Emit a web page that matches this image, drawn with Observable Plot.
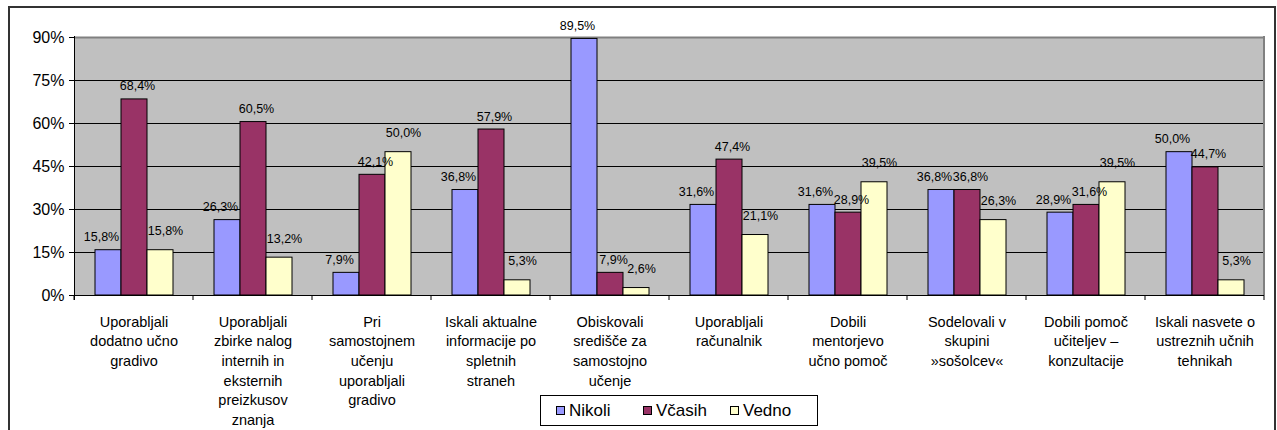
<!DOCTYPE html>
<html>
<head>
<meta charset="utf-8">
<script src="https://cdn.jsdelivr.net/npm/d3@7"></script>
<script src="https://cdn.jsdelivr.net/npm/@observablehq/plot@0.6"></script>
<style>
  html, body { margin: 0; padding: 0; background: #fff; }
  #wrap { position: relative; width: 1277px; height: 430px; overflow: hidden; font-family: Arial, "Liberation Sans", sans-serif; }
  #border { position: absolute; left: 8px; top: 6px; width: 1268px; height: 450px; box-sizing: border-box; border: 2px solid #333; }
  #chart { position: absolute; left: 0; top: 0; }
  #legend { position: absolute; left: 540px; top: 395px; width: 278px; height: 31px; box-sizing: border-box;
            border: 1px solid #000; background: #fff; display: flex; align-items: center; padding-left: 15px;
            font-size: 17px; color: #000; }
  .item { display: inline-flex; align-items: center; width: 92px; }
  .sw { width: 7px; height: 7px; border: 1px solid #000; margin-right: 4px; }
</style>
</head>
<body>
<div id="wrap">
  <div id="border"></div>
  <div id="chart"></div>
  <div id="legend"></div>
</div>
<script>
const categories = [
  "Uporabljali\ndodatno učno\ngradivo",
  "Uporabljali\nzbirke nalog\ninternih in\neksternih\npreizkusov\nznanja",
  "Pri\nsamostojnem\nučenju\nuporabljali\ngradivo",
  "Iskali aktualne\ninformacije po\nspletnih\nstraneh",
  "Obiskovali\nsredišče za\nsamostojno\nučenje",
  "Uporabljali\nračunalnik",
  "Dobili\nmentorjevo\nučno pomoč",
  "Sodelovali v\nskupini\n»sošolcev«",
  "Dobili pomoč\nučiteljev –\nkonzultacije",
  "Iskali nasvete o\nustreznih učnih\ntehnikah"
];
const series = ["Nikoli", "Včasih", "Vedno"];
const nikoli = [15.8, 26.3, 7.9, 36.8, 89.5, 31.6, 31.6, 36.8, 28.9, 50.0];
const vcasih = [68.4, 60.5, 42.1, 57.9, 7.9, 47.4, 28.9, 36.8, 31.6, 44.7];
const vedno  = [15.8, 13.2, 50.0, 5.3, 2.6, 21.1, 39.5, 26.3, 39.5, 5.3];
const yTicks = [0, 15, 30, 45, 60, 75, 90];
const colors = ["#9999FF", "#993366", "#FFFFCC"];

const values = [nikoli, vcasih, vedno];
const data = categories.flatMap((c, i) => series.map((s, j) => ({category: c, series: s, value: values[j][i]})));
const fmt = v => v.toFixed(1).replace(".", ",") + "%";

const W = 1277, H = 430, mL = 74, mR = 13, mT = 37, mB = 135;
const labelDx = {"Nikoli": -7, "Včasih": 3, "Vedno": 5};
const labelDy = {"Nikoli": -13, "Včasih": -13, "Vedno": -19};

const chart = Plot.plot({
  width: W, height: H,
  marginLeft: mL, marginRight: mR, marginTop: mT, marginBottom: mB,
  style: {background: "transparent", fontFamily: "Arial, 'Liberation Sans', sans-serif", color: "#000", overflow: "visible"},
  fx: {domain: categories, padding: 0, label: null},
  x: {domain: series, paddingInner: 0, paddingOuter: 0.74, axis: null},
  y: {domain: [0, 90], label: null},
  color: {domain: series, range: colors},
  marks: [
    Plot.ruleY(yTicks.filter(t => t > 0 && t < 90), {stroke: "#000", strokeWidth: 1}),
    Plot.ruleY([90], {stroke: "#808080", strokeWidth: 2}),
    Plot.barY(data, {fx: "category", x: "series", y: "value", fill: "series", stroke: "#000", strokeWidth: 1}),
    ...series.map(s => Plot.text(data, {
      filter: d => d.series === s,
      fx: "category", x: "series", y: "value",
      text: d => fmt(d.value),
      dx: labelDx[s], dy: labelDy[s],
      fontSize: 12.5, fill: "#000"
    })),
    Plot.ruleY([0], {stroke: "#000", strokeWidth: 1}),
    Plot.axisY({ticks: yTicks, tickFormat: d => d + "%", tickSize: 5, tickPadding: 5, fontSize: 16, label: null}),
    Plot.axisFx({anchor: "bottom", tickSize: 0, tickPadding: 17, fontSize: 14.5, lineHeight: 1.36, label: null})
  ]
});
document.getElementById("chart").appendChild(chart);

// Plot-area background and axis decorations positioned from the chart's own scales
const fx = chart.scale("fx");
const yS = chart.scale("y");
const step = fx.step ?? ((fx.range[1] - fx.range[0]) / fx.domain.length);
const yTop = yS.apply(90), yBot = yS.apply(0);
const edges = fx.domain.map(d => fx.apply(d));
const right = edges[edges.length - 1] + step;
const svg = d3.select(chart.tagName.toLowerCase() === "svg" ? chart : chart.querySelector("svg"));
svg.insert("rect", ":first-child")
  .attr("x", edges[0]).attr("y", yTop).attr("width", right - edges[0]).attr("height", yBot - yTop)
  .attr("fill", "#C0C0C0");
const g = svg.append("g");
g.append("line").attr("x1", right).attr("x2", right).attr("y1", yTop - 1).attr("y2", yBot)
  .attr("stroke", "#808080").attr("stroke-width", 2);
g.append("line").attr("x1", edges[0] + 0.5).attr("x2", edges[0] + 0.5).attr("y1", yTop - 1).attr("y2", yBot + 5)
  .attr("stroke", "#000");
[...edges, right].forEach(x => {
  g.append("line").attr("x1", x).attr("x2", x).attr("y1", yBot).attr("y2", yBot + 5).attr("stroke", "#000");
});

const legend = document.getElementById("legend");
series.forEach((s, i) => {
  const item = document.createElement("span");
  item.className = "item";
  const sw = document.createElement("span");
  sw.className = "sw";
  sw.style.background = colors[i];
  item.appendChild(sw);
  item.appendChild(document.createTextNode(s));
  legend.appendChild(item);
});
</script>
</body>
</html>
